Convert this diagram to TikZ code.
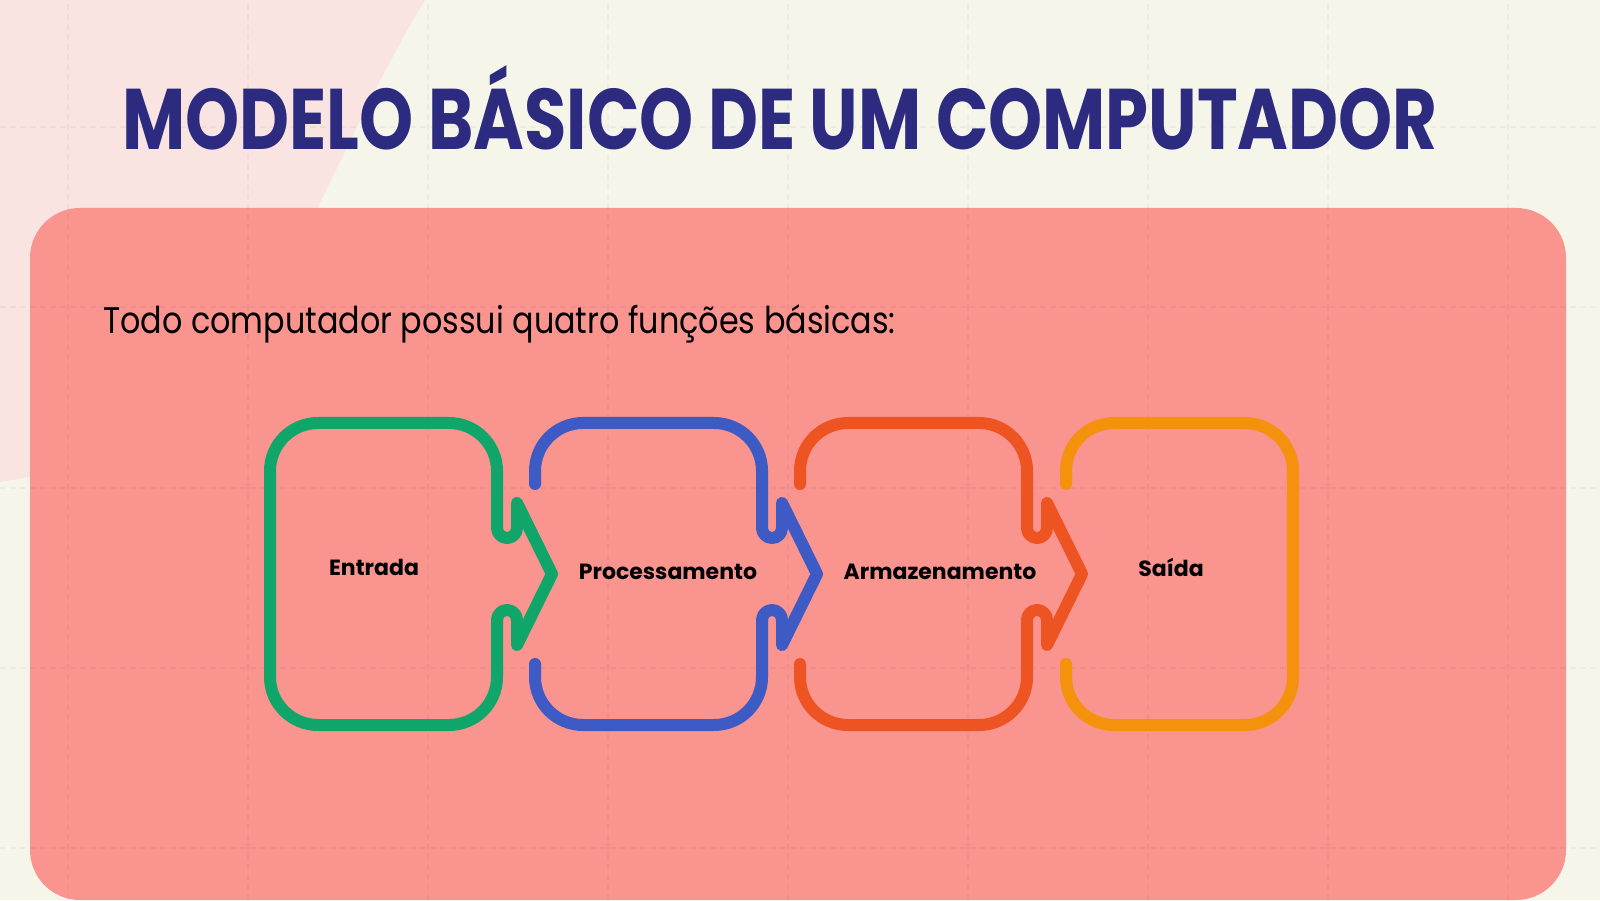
\documentclass[tikz,border=0pt]{standalone}
\usepackage{fontspec}
\setmainfont{Poppins}
\usepackage{tikz}
\definecolor{cream}{HTML}{F5F5EA}
\definecolor{blobpink}{HTML}{FAE4E1}
\definecolor{coral}{HTML}{F9948F}
\definecolor{navy}{HTML}{2D2B7F}
\definecolor{pgreen}{HTML}{10A66A}
\definecolor{pblue}{HTML}{3E5AC5}
\definecolor{porange}{HTML}{EE5421}
\definecolor{pyellow}{HTML}{F4920E}
% pieces of one puzzle outline (local coordinates, centre of left side at origin)
\def\piecetop{-- (0,103) arc[start angle=180,end angle=90,radius=48] -- (179,151) arc[start angle=90,end angle=0,radius=48]}
\def\piecenotch{-- (227,46) arc[start angle=180,end angle=360,radius=10] -- (247,71) -- (282,0) -- (247,-71) -- (247,-46) arc[start angle=0,end angle=180,radius=10]}
\def\piecebottom{-- (227,-103) arc[start angle=0,end angle=-90,radius=48] -- (48,-151) arc[start angle=270,end angle=180,radius=48] -- (0,-90)}
\tikzset{
  piece/.style={line width=12pt, line cap=round, line join=round},
  boxtext/.style={font=\bfseries\fontsize{22}{22}\selectfont, text=black},
  gridline/.style={black, opacity=0.035, line width=1.5pt, dash pattern=on 6pt off 4pt}
}

\begin{document}
\begin{tikzpicture}[x=1pt,y=1pt]
  %%%%% BACKGROUND %%%%%
  \useasboundingbox (0,0) rectangle (1600,900);
  \fill[cream] (0,0) rectangle (1600,900);
  \fill[blobpink] (0,900) -- (425,900) .. controls (370,810) and (335,720) .. (260,580) .. controls (190,465) and (80,430) .. (0,418) -- cycle;
  \fill[coral, rounded corners=50pt] (30,0) rectangle (1566,692);
  \foreach \x in {68,248,...,1600} \draw[gridline] (\x,0) -- (\x,900);
  \foreach \y in {52,232,412,593,773} \draw[gridline] (0,\y) -- (1600,\y);

  %%%%% TEXT %%%%%
  \node[anchor=base, text=navy, font=\bfseries\fontsize{86}{86}\selectfont] (title) at (780,750) {\scalebox{0.80}[1]{MODELO BÁSICO DE UM COMPUTADOR}};
  \node[anchor=base west, inner sep=0pt, font=\fontsize{37}{37}\selectfont] (intro) at (103,566) {\scalebox{0.86}[1]{Todo computador possui quatro funções básicas:}};

  %%%%% PUZZLE %%%%%
  \begin{scope}[shift={(270,326)}]
    \draw[piece, pgreen] (0,-90) -- (0,90) \piecetop \piecenotch \piecebottom;
  \end{scope}
  \begin{scope}[shift={(535,326)}]
    \draw[piece, pblue] (0,90) \piecetop \piecenotch \piecebottom;
  \end{scope}
  \begin{scope}[shift={(800,326)}]
    \draw[piece, porange] (0,90) \piecetop \piecenotch \piecebottom;
  \end{scope}
  \begin{scope}[shift={(1066,326)}]
    \draw[piece, pyellow] (0,90) \piecetop \piecebottom;
  \end{scope}

  \node[boxtext] (entrada) at (374,333) {Entrada};
  \node[boxtext] (proc) at (668,328) {Processamento};
  \node[boxtext] (armaz) at (940,328) {Armazenamento};
  \node[boxtext] (saida) at (1171,333) {Saída};
\end{tikzpicture}
\end{document}
